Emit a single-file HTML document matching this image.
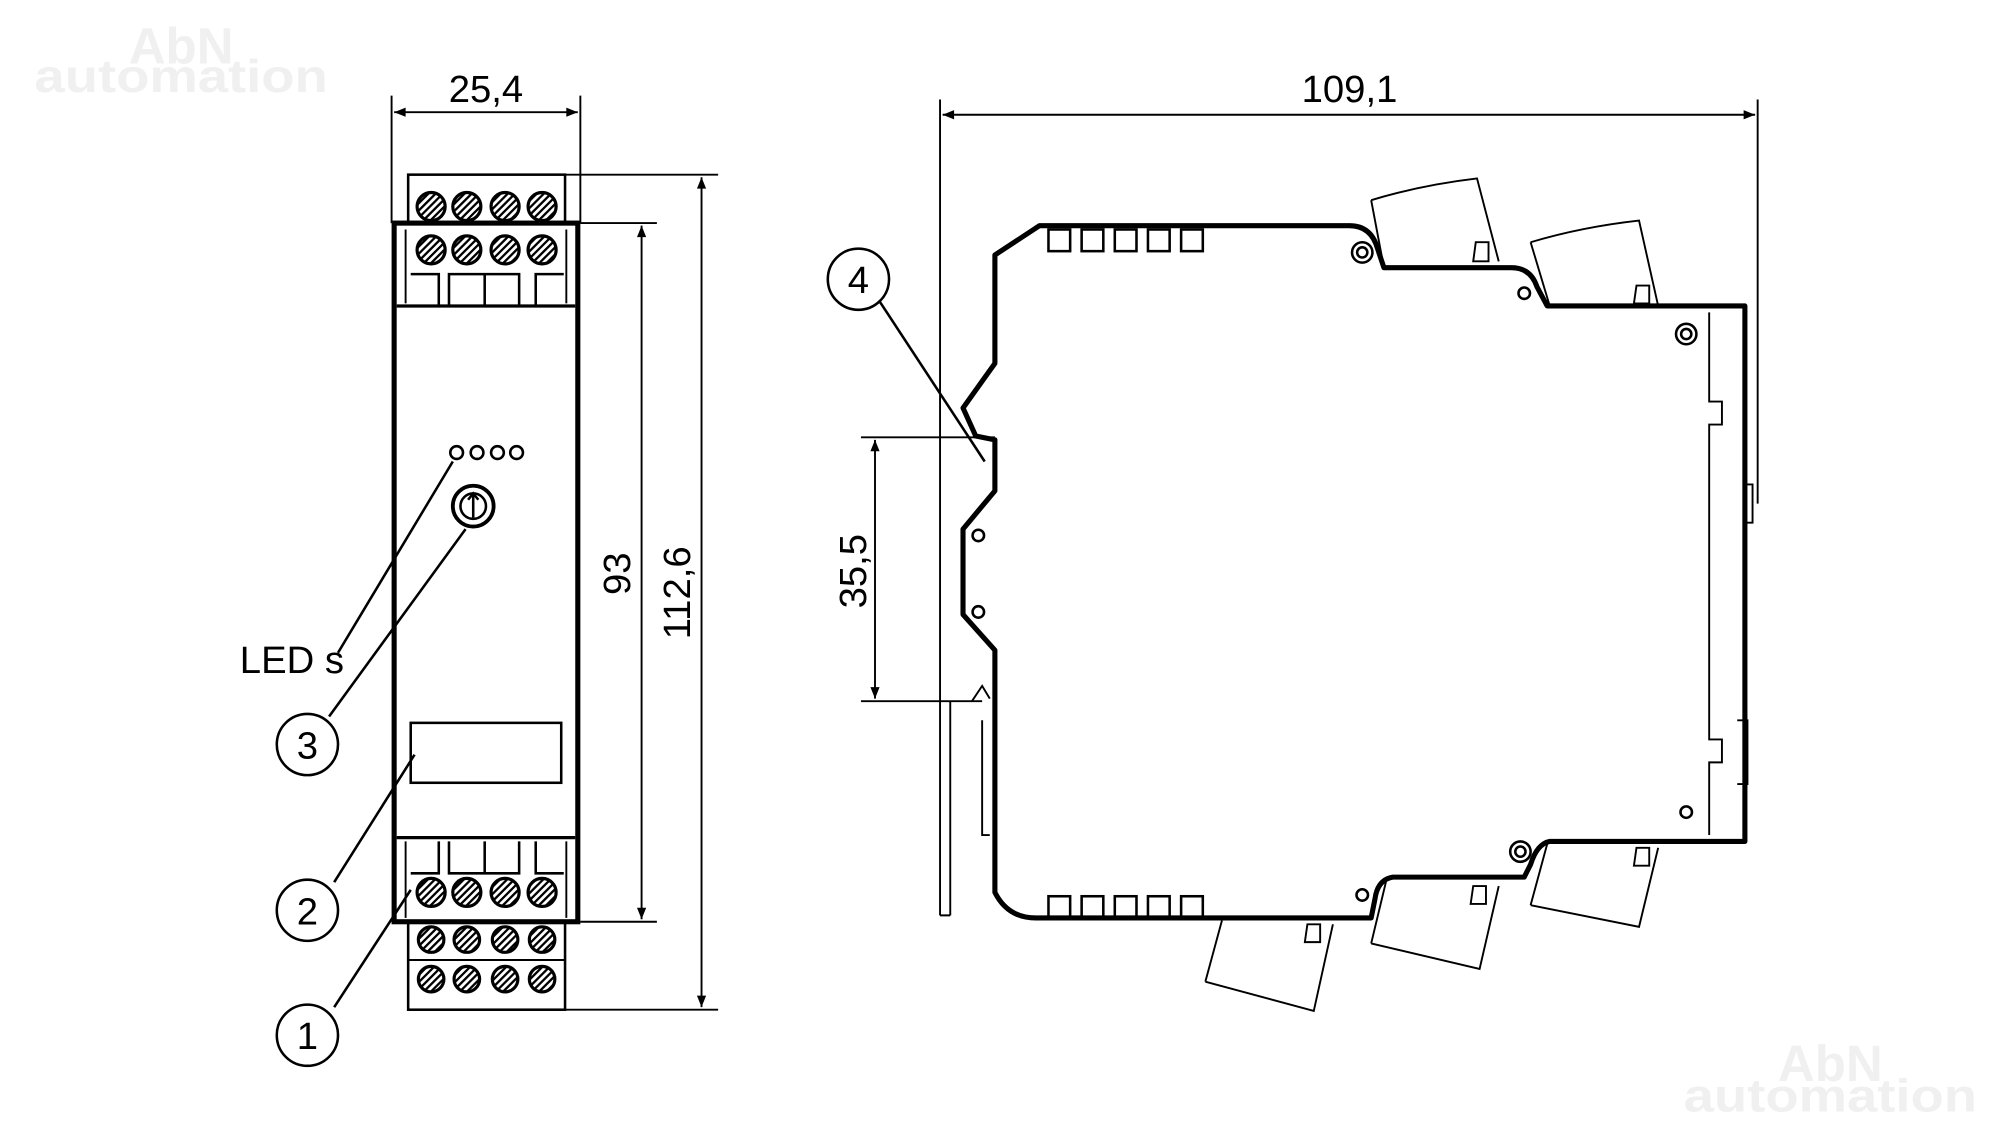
<!DOCTYPE html>
<html><head><meta charset="utf-8"><style>html,body{margin:0;padding:0;background:#fff}svg{display:block}</style></head><body>
<svg width="2000" height="1127" viewBox="0 0 1568 884" preserveAspectRatio="none" xmlns="http://www.w3.org/2000/svg" font-family="Liberation Sans, sans-serif">
<defs>
<marker id="a" viewBox="0 0 10 10" refX="10" refY="5" markerWidth="9" markerHeight="6" orient="auto-start-reverse"><path d="M0,1 L10,5 L0,9z" fill="#000"/></marker>
<pattern id="h" width="4" height="4" patternUnits="userSpaceOnUse" patternTransform="rotate(-45)"><rect width="4" height="4" fill="#fff"/><rect width="4" height="1.8" fill="#000"/></pattern>
</defs>
<g fill="#f0f0f0" font-weight="bold">
<text x="142" y="50" font-size="40" text-anchor="middle">AbN</text>
<text x="142" y="72" font-size="36" text-anchor="middle" textLength="230" lengthAdjust="spacingAndGlyphs">automation</text>
<text x="1435" y="848" font-size="40" text-anchor="middle">AbN</text>
<text x="1435" y="872" font-size="36" text-anchor="middle" textLength="230" lengthAdjust="spacingAndGlyphs">automation</text>
</g>
<g stroke="#000" fill="none" stroke-width="1.5">
<line x1="307" y1="75" x2="307" y2="175"/><line x1="455" y1="75" x2="455" y2="175"/>
<line x1="309" y1="88" x2="453" y2="88" marker-start="url(#a)" marker-end="url(#a)"/>
<line x1="443" y1="137" x2="563" y2="137"/><line x1="443" y1="792" x2="563" y2="792"/>
<line x1="455" y1="175" x2="515" y2="175"/><line x1="455" y1="723" x2="515" y2="723"/>
<line x1="550" y1="139" x2="550" y2="790" marker-start="url(#a)" marker-end="url(#a)"/>
<line x1="503" y1="177" x2="503" y2="721" marker-start="url(#a)" marker-end="url(#a)"/>
<rect x="309" y="175" width="144" height="548" stroke-width="4"/>
<line x1="311" y1="240" x2="451" y2="240" stroke-width="2.5"/>
<line x1="311" y1="657" x2="451" y2="657" stroke-width="2.5"/>
<line x1="318" y1="180" x2="318" y2="238"/><line x1="444" y1="180" x2="444" y2="238"/>
<line x1="318" y1="660" x2="318" y2="720"/><line x1="444" y1="660" x2="444" y2="720"/>
<rect x="320" y="137" width="123" height="38" stroke-width="2"/>
<rect x="320" y="723" width="123" height="69" stroke-width="2"/>
<line x1="320" y1="753" x2="443" y2="753"/>
<rect x="322" y="567" width="118" height="47" stroke-width="2"/>
<path d="M322,215 h22 v25 M352,240 v-25 h55 v25 M380,215 v25 M420,240 v-25 h22" stroke-width="2"/>
<path d="M322,685 h22 v-25 M352,660 v25 h55 v-25 M380,685 v-25 M420,660 v25 h22" stroke-width="2"/>
</g>
<g stroke="#000" stroke-width="2.5" fill="url(#h)">
<circle cx="338" cy="162" r="11"/><circle cx="366" cy="162" r="11"/><circle cx="396" cy="162" r="11"/><circle cx="425" cy="162" r="11"/>
<circle cx="338" cy="196" r="11"/><circle cx="366" cy="196" r="11"/><circle cx="396" cy="196" r="11"/><circle cx="425" cy="196" r="11"/>
<circle cx="338" cy="700" r="11"/><circle cx="366" cy="700" r="11"/><circle cx="396" cy="700" r="11"/><circle cx="425" cy="700" r="11"/>
<circle cx="338" cy="737" r="10"/><circle cx="366" cy="737" r="10"/><circle cx="396" cy="737" r="10"/><circle cx="425" cy="737" r="10"/>
<circle cx="338" cy="768" r="10"/><circle cx="366" cy="768" r="10"/><circle cx="396" cy="768" r="10"/><circle cx="425" cy="768" r="10"/>
</g>
<g stroke="#000" fill="none" stroke-width="2">
<circle cx="371" cy="397" r="16" stroke-width="3"/><circle cx="371" cy="397" r="10"/><path d="M371,406 V388 M367,392 L371,387 L375,392"/>
<circle cx="358" cy="355" r="5"/><circle cx="374" cy="355" r="5"/><circle cx="390" cy="355" r="5"/><circle cx="405" cy="355" r="5"/>
<line x1="355" y1="362" x2="265" y2="512"/>
<line x1="365" y1="415" x2="258" y2="562"/>
<line x1="325" y1="592" x2="262" y2="692"/>
<line x1="322" y1="698" x2="262" y2="790"/>
<circle cx="241" cy="584" r="24"/><circle cx="241" cy="714" r="24"/><circle cx="241" cy="812" r="24"/><circle cx="673" cy="219" r="24"/>
<line x1="690" y1="237" x2="772" y2="362"/>
</g>
<g font-size="30" fill="#000">
<text x="381" y="80" text-anchor="middle">25,4</text>
<text x="188" y="528">LED s</text>
<text x="241" y="595" text-anchor="middle">3</text>
<text x="241" y="725" text-anchor="middle">2</text>
<text x="241" y="823" text-anchor="middle">1</text>
<text x="673" y="230" text-anchor="middle">4</text>
<text x="1058" y="80" text-anchor="middle">109,1</text>
<text transform="translate(494,450) rotate(-90)" text-anchor="middle">93</text>
<text transform="translate(541,465) rotate(-90)" text-anchor="middle">112,6</text>
<text transform="translate(679,448) rotate(-90)" text-anchor="middle">35,5</text>
</g>
<g stroke="#000" fill="none" stroke-width="1.5">
<line x1="737" y1="78" x2="737" y2="718"/><line x1="1378" y1="78" x2="1378" y2="395"/>
<line x1="739" y1="90" x2="1376" y2="90" marker-start="url(#a)" marker-end="url(#a)"/>
<line x1="675" y1="343" x2="780" y2="343"/><line x1="675" y1="550" x2="770" y2="550"/>
<line x1="686" y1="345" x2="686" y2="548" marker-start="url(#a)" marker-end="url(#a)"/>
<path d="M1340,245 V315 h10 v18 h-10 V580 h10 v18 h-10 V655"/>
<path d="M1368,380 h6 v30 h-6 M1362,565 h8 v50 h-8"/>
<path d="M745,550 V718 M737,718 h8 M770,565 v90 h6 M762,550 l8,-12 l6,10"/>
<path d="M1075,157 Q1115,145 1158,140 L1175,205 M1085,210 L1075,157"/>
<path d="M1200,190 Q1240,178 1285,173 L1300,240 M1215,240 L1200,190"/>
<path d="M1200,710 L1285,727 L1300,665 M1200,710 L1213,662"/>
<path d="M1075,740 L1160,760 L1175,695 M1075,740 L1087,690"/>
<path d="M945,770 L1030,793 L1045,725 M945,770 L958,722"/>
<path d="M1157,190 h10 v15 h-12z M1283,224 h10 v14 h-12z M1155,695 h10 v14 h-12z M1283,665 h10 v14 h-12z M1025,725 h10 v14 h-12z"/>
</g>
<path d="M780,200 L815,177 H1058 Q1075,177 1080,195 L1085,210 H1185 Q1200,210 1205,225 L1213,240 H1368 V660 H1215 Q1205,662 1200,678 L1195,688 H1092 Q1080,690 1078,705 L1075,720 H812 Q790,720 780,700 V550 L780,510 L755,482 V415 L780,385 V345 L765,342 L755,320 L780,285 Z" fill="none" stroke="#000" stroke-width="4" stroke-linejoin="round"/>
<g stroke="#000" fill="none" stroke-width="2">
<rect x="822" y="180" width="17" height="17"/><rect x="848" y="180" width="17" height="17"/><rect x="874" y="180" width="17" height="17"/><rect x="900" y="180" width="17" height="17"/><rect x="926" y="180" width="17" height="17"/>
<rect x="822" y="703" width="17" height="17"/><rect x="848" y="703" width="17" height="17"/><rect x="874" y="703" width="17" height="17"/><rect x="900" y="703" width="17" height="17"/><rect x="926" y="703" width="17" height="17"/>
<circle cx="1068" cy="198" r="8"/><circle cx="1068" cy="198" r="4"/>
<circle cx="1322" cy="262" r="8"/><circle cx="1322" cy="262" r="4"/>
<circle cx="1192" cy="668" r="8"/><circle cx="1192" cy="668" r="4"/>
<circle cx="1195" cy="230" r="4.5"/><circle cx="1322" cy="637" r="4.5"/><circle cx="1068" cy="702" r="4.5"/>
<circle cx="767" cy="420" r="4.5"/><circle cx="767" cy="480" r="4.5"/>
</g>
</svg>
</body></html>
